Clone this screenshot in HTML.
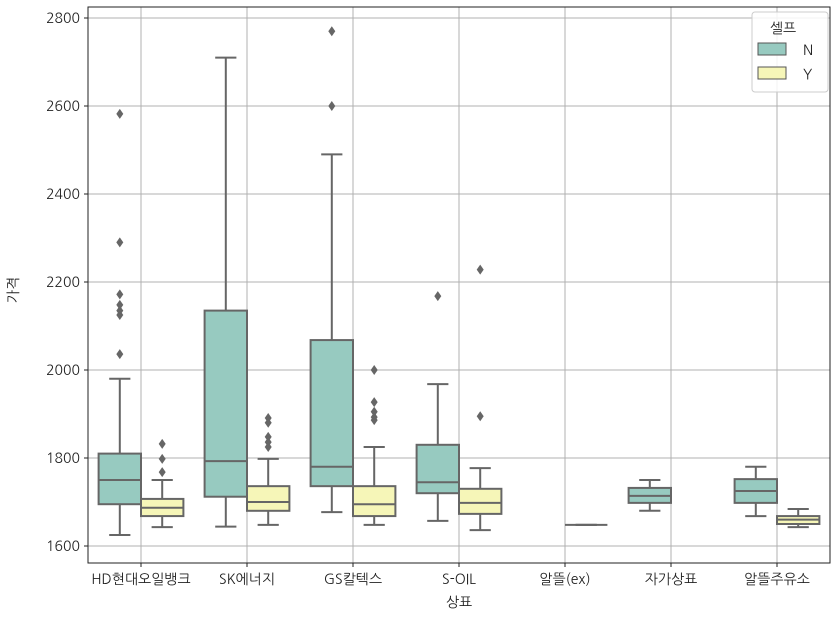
<!DOCTYPE html>
<html><head><meta charset="utf-8">
<style>
body{margin:0;background:#fff;}
svg{display:block;font-family:"NanumGothic","Liberation Sans","Noto Sans CJK KR",sans-serif;}
</style></head>
<body>
<svg id="chart" width="837" height="618">
<rect x="88" y="7" width="742" height="556" fill="#fff"/>
<g id="grid"></g>
<g id="marks"></g>
<rect x="88" y="7" width="742" height="556" fill="none" stroke="#222" stroke-width="1"/>
<g id="axes"></g>
<text x="18" y="290" font-size="14" fill="#222" text-anchor="middle" transform="rotate(-90 18 290)">가격</text>
<text x="459" y="607" font-size="14" fill="#222" text-anchor="middle">상표</text>
<g>
<rect x="752" y="12" width="76" height="80" rx="3" fill="#fff" fill-opacity="0.85" stroke="#ccc"/>
<text x="783" y="33" font-size="14" fill="#222" text-anchor="middle">셀프</text>
<rect x="758" y="43" width="28" height="12" fill="#97cac0" stroke="#555"/>
<text x="803" y="55" font-size="14" fill="#222">N</text>
<rect x="758" y="67" width="28" height="12" fill="#f6f6b8" stroke="#555"/>
<text x="803" y="79" font-size="14" fill="#222">Y</text>
</g>
</svg>
<script>
const categories = ["HD현대오일뱅크","SK에너지","GS칼텍스","S-OIL","알뜰(ex)","자가상표","알뜰주유소"];
const yTicks = [1600,1800,2000,2200,2400,2600,2800];
// [whiskerLow, q1, median, q3, whiskerHigh] per category; null = no data
const statsN = [[1625,1695,1750,1810,1980],[1644,1712,1793,2135,2710],[1677,1736,1780,2068,2490],[1657,1720,1745,1830,1968],null,[1680,1698,1714,1732,1750],[1668,1698,1725,1752,1780]];
const statsY = [[1643,1668,1687,1707,1750],[1648,1680,1700,1736,1798],[1648,1668,1695,1736,1825],[1636,1673,1698,1730,1777],[1648,1648,1648,1648,1648],null,[1643,1650,1660,1668,1684]];
const outliersN = [[2582,2290,2172,2148,2135,2125,2036],[],[2770,2600],[2168],[],[],[]];
const outliersY = [[1832,1798,1768],[1891,1880,1848,1836,1825],[2000,1927,1905,1893,1886],[2228,1895],[],[],[]];

const NS="http://www.w3.org/2000/svg";
const X0=88, X1=830, step=(X1-X0)/categories.length;
const yScale=v=>546-(v-1600)*0.44;
const xCenter=i=>X0+step*(i+0.5);
const bw=step*0.4;
function mk(tag,attrs,parent){const e=document.createElementNS(NS,tag);for(const k in attrs)e.setAttribute(k,attrs[k]);parent.appendChild(e);return e;}
const grid=document.getElementById('grid'),marks=document.getElementById('marks'),axes=document.getElementById('axes');
yTicks.forEach(t=>{
  const y=yScale(t);
  const g=mk('line',{x1:X0,x2:X1,y1:y,y2:y,stroke:'#b0b0b0','stroke-width':1},grid);
  
  
  mk('line',{x1:X0-4,x2:X0,y1:y,y2:y,stroke:'#222'},axes);
  const tx=mk('text',{x:X0-8,y:y+5,'font-size':14,fill:'#222','text-anchor':'end'},axes);
  tx.textContent=t;
  
  
});
categories.forEach((c,i)=>{
  const x=xCenter(i);
  const g=mk('line',{x1:x,x2:x,y1:7,y2:563,stroke:'#b0b0b0','stroke-width':1},grid);
  
  
  mk('line',{x1:x,x2:x,y1:563,y2:567,stroke:'#222'},axes);
  const tx=mk('text',{x:x,y:584,'font-size':14,fill:'#222','text-anchor':'middle'},axes);
  tx.textContent=c;
  
  
});
function drawBox(s,outs,i,off,fill,name){
  const cx=xCenter(i)+off;
  const col='#666';
  if(s){
    const gr=mk('g',{},marks);
    
    
    const [lo,q1,md,q3,hi]=s;
    mk('line',{x1:cx,x2:cx,y1:yScale(hi),y2:yScale(q3),stroke:col,'stroke-width':2},gr);
    mk('line',{x1:cx,x2:cx,y1:yScale(q1),y2:yScale(lo),stroke:col,'stroke-width':2},gr);
    mk('line',{x1:cx-bw/4,x2:cx+bw/4,y1:yScale(hi),y2:yScale(hi),stroke:col,'stroke-width':2},gr);
    mk('line',{x1:cx-bw/4,x2:cx+bw/4,y1:yScale(lo),y2:yScale(lo),stroke:col,'stroke-width':2},gr);
    mk('rect',{x:cx-bw/2,y:yScale(q3),width:bw,height:Math.max(0,yScale(q1)-yScale(q3)),fill:fill,stroke:col,'stroke-width':2},gr);
    mk('line',{x1:cx-bw/2,x2:cx+bw/2,y1:yScale(md),y2:yScale(md),stroke:col,'stroke-width':2},gr);
  }
  outs.forEach(v=>{
    const y=yScale(v);
    const p=mk('path',{d:`M${cx} ${y-5}L${cx+3.5} ${y}L${cx} ${y+5}L${cx-3.5} ${y}Z`,fill:'#666'},marks);
    
    
  });
}
categories.forEach((c,i)=>{
  drawBox(statsN[i],outliersN[i],i,-bw/2,'#97cac0','box-n');
  drawBox(statsY[i],outliersY[i],i,bw/2,'#f6f6b8','box-y');
});
</script>
</body></html>
